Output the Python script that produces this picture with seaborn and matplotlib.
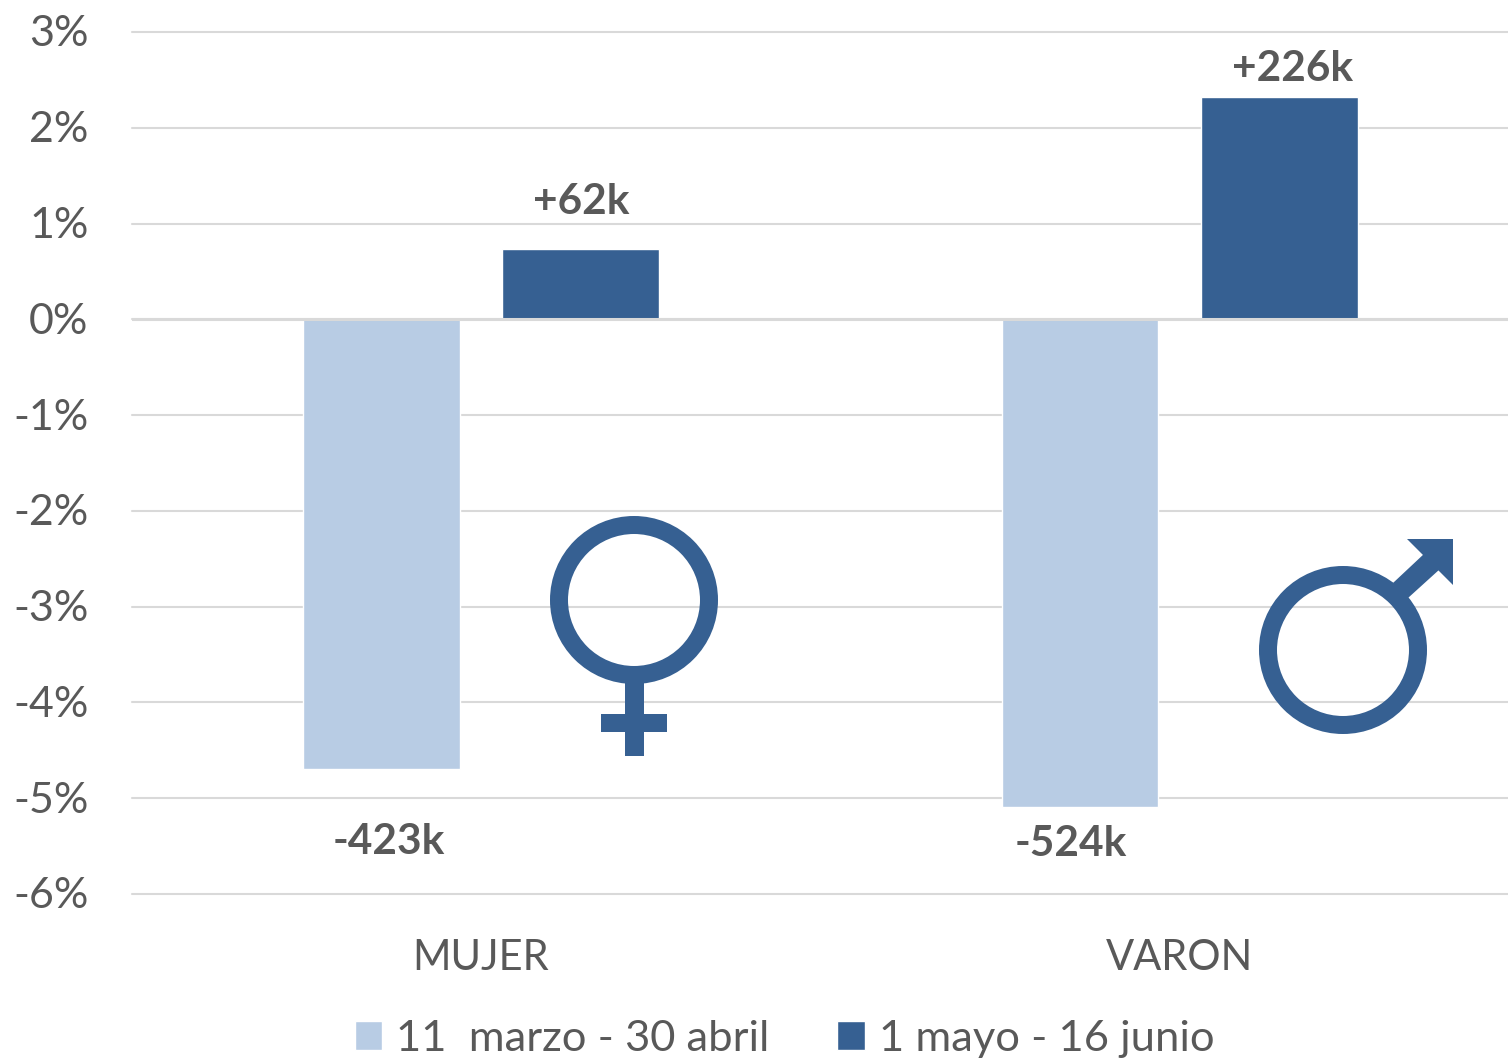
import numpy as np
import pandas as pd
import matplotlib
matplotlib.use("Agg")
import matplotlib.pyplot as plt
from matplotlib.patches import Circle, Polygon, Rectangle
from matplotlib.transforms import ScaledTranslation
import seaborn as sns

categories = ["MUJER", "VARON"]
period_1 = "11  marzo - 30 abril"
period_2 = "1 mayo - 16 junio"
values_1 = [-4.69, -5.09]
values_2 = [0.73, 2.32]
labels_1 = ["-423k", "-524k"]
labels_2 = ["+62k", "+226k"]
y_ticks = [3, 2, 1, 0, -1, -2, -3, -4, -5, -6]

LIGHT, DARK, TEXT, GRID = "#B8CCE4", "#366092", "#595959", "#D9D9D9"
W, H = 1508, 1059

sns.set_theme(style="white")
plt.rcParams["font.family"] = ["Lato", "DejaVu Sans"]

df = pd.DataFrame({
    "cat": categories * 2,
    "period": [period_1] * 2 + [period_2] * 2,
    "value": values_1 + values_2,
})

fig = plt.figure(figsize=(W / 100, H / 100), dpi=100, facecolor="white")
ax = fig.add_axes([131.5 / W, 1 - 894 / H, (1508 - 131.5) / W, (894 - 32) / H])
sns.barplot(data=df, x="cat", y="value", hue="period", order=categories,
            hue_order=[period_1, period_2], palette=[LIGHT, DARK],
            width=0.57, gap=0.212, saturation=1, errorbar=None, ax=ax, zorder=3)

ax.set_xlim(-0.5, 1.47)
ax.set_ylim(-6, 3)
ax.set_yticks(y_ticks)
ax.set_yticklabels([f"{t}%" for t in y_ticks])
ax.set_xlabel("")
ax.set_ylabel("")
for s in ax.spines.values():
    s.set_visible(False)
ax.yaxis.grid(True, color=GRID, lw=1.5, zorder=0)
ax.set_axisbelow(True)
for l in ax.get_ygridlines():
    l.set_clip_on(False)
ax.axhline(0, color=GRID, lw=2.2, zorder=4)
ax.tick_params(axis="y", length=0, pad=31, labelsize=31, labelcolor=TEXT)
ax.tick_params(axis="x", length=0, pad=32.5, labelsize=30, labelcolor=TEXT)
for lbl in ax.get_yticklabels():
    lbl.set_transform(lbl.get_transform() + ScaledTranslation(0, 0.8 / 72, fig.dpi_scale_trans))

offs_1 = [(8, -73), (-9, -37.5)]
offs_2 = [(1, 47), (13, 28)]
for cont, labs, offs in ((ax.containers[0], labels_1, offs_1), (ax.containers[1], labels_2, offs_2)):
    for bar, lab, off in zip(cont, labs, offs):
        ax.annotate(lab, (bar.get_x() + bar.get_width() / 2, bar.get_height()),
                    xytext=off, textcoords="offset pixels", ha="center", va="center",
                    fontsize=30.5, fontweight="bold", color=TEXT, zorder=6)

ax.get_legend().remove()
handles = list(ax.containers[0][:1]) + list(ax.containers[1][:1])
fig.legend(handles, [period_1, period_2], ncol=2, loc="center",
           bbox_to_anchor=(784.5 / W, 1 - 1039 / H), frameon=False, fontsize=31.3,
           labelcolor=TEXT, handlelength=0.63, handleheight=0.63, handletextpad=0.32,
           columnspacing=1.56, borderpad=0, borderaxespad=0)

# gender symbols, drawn in figure pixel coordinates
ov = fig.add_axes([0, 0, 1, 1], facecolor="none")
ov.set_xlim(0, W)
ov.set_ylim(H, 0)
ov.axis("off")
for cx, cy in ((634, 600), (1343, 650)):
    ov.add_patch(Circle((cx, cy), 75, fill=False, ec=DARK, lw=18 * 0.72))
ov.add_patch(Rectangle((625, 680), 18.5, 76, fc=DARK, ec="none"))
ov.add_patch(Rectangle((601, 714), 66, 18, fc=DARK, ec="none"))
ov.add_patch(Polygon([(1393, 583), (1425, 553), (1440, 569), (1408, 598)], fc=DARK, ec="none"))
ov.add_patch(Polygon([(1407, 539), (1453, 539), (1453, 585)], fc=DARK, ec="none"))

fig.savefig("out.png", dpi=100, facecolor="white")
